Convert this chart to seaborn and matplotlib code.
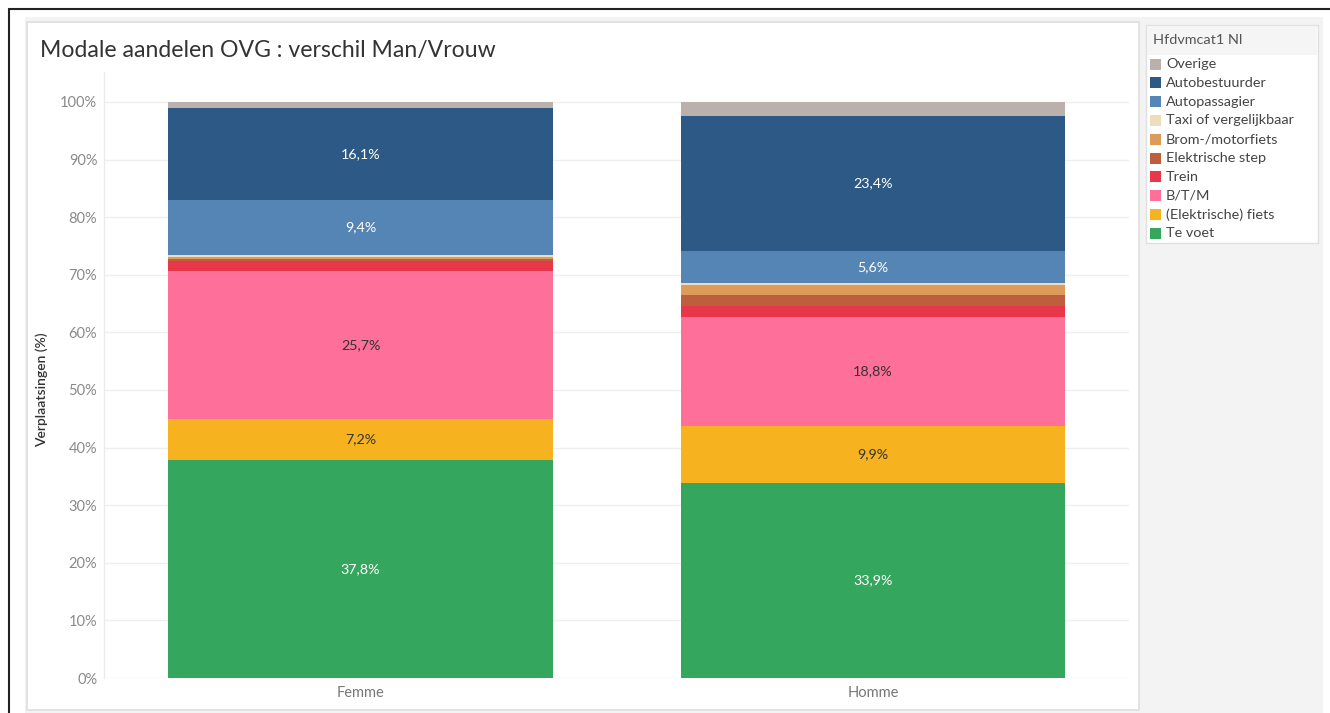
import numpy as np
import pandas as pd
import seaborn as sns
import matplotlib.pyplot as plt
from matplotlib.patches import Rectangle
from matplotlib.lines import Line2D

# Modal shares (%) per gender, listed from top of the stack to the bottom
genders = ['Femme', 'Homme']
modes = ['Overige', 'Autobestuurder', 'Autopassagier', 'Taxi of vergelijkbaar', 'Brom-/motorfiets',
         'Elektrische step', 'Trein', 'B/T/M', '(Elektrische) fiets', 'Te voet']
femme = [0.9, 16.1, 9.4, 0.5, 0.2, 0.4, 1.7, 25.7, 7.2, 37.8]
homme = [2.4, 23.4, 5.6, 0.3, 1.9, 1.9, 1.9, 18.8, 9.9, 33.9]

mode_colors = ['#bab0ac', '#2c5985', '#5485b5', '#efdcbc', '#dc9b58', '#bd5f3d', '#e8364b', '#fe6f9a',
               '#f7b21f', '#34a65d']
dark_label_modes = ['B/T/M', '(Elektrische) fiets']
MIN_LABEL = 5  # smaller segments get no label

W, H = 1330, 713

df = pd.DataFrame({'Geslacht': np.repeat(genders, len(modes)),
                   'Modus': modes * len(genders),
                   'Aandeel': femme + homme})
# top of each segment = cumulative share from the bottom of the stack
df['Top'] = df.iloc[::-1].groupby('Geslacht')['Aandeel'].cumsum()

sns.set_style('white')
plt.rcParams['font.family'] = ['Lato', 'DejaVu Sans']

fig = plt.figure(figsize=(W / 100, H / 100), dpi=100)
fig.patch.set_facecolor('white')

# dashboard background, chart panel and legend panel
fig.add_artist(Rectangle((25 / W, 0), (1323 - 25) / W, (H - 17) / H, transform=fig.transFigure,
                         facecolor='#f3f3f3', edgecolor='none', zorder=-3))
fig.add_artist(Rectangle((27 / W, 3 / H), 1112 / W, 688 / H, transform=fig.transFigure,
                         facecolor='white', edgecolor='#dedede', linewidth=1.2, zorder=-2))
fig.add_artist(Rectangle((1146 / W, (H - 243) / H), 172 / W, 218 / H, transform=fig.transFigure,
                         facecolor='white', edgecolor='#e0e0e0', linewidth=1, zorder=-2))
fig.add_artist(Rectangle((1147 / W, (H - 55) / H), 170 / W, 29 / H, transform=fig.transFigure,
                         facecolor='#f5f5f5', edgecolor='none', zorder=-1))
fig.add_artist(Line2D([9 / W, 9 / W], [0, (H - 9) / H], color='#222222', linewidth=1.5))
fig.add_artist(Line2D([9 / W, 1], [(H - 9) / H, (H - 9) / H], color='#222222', linewidth=1.5))

ax = fig.add_axes([104.25 / W, 35 / H, 1025 / W, 606 / H])
ax.set_facecolor('white')

# overdraw cumulative bars, tallest (top of stack) first
for mode, color in zip(modes, mode_colors):
    sub = df[df['Modus'] == mode]
    sns.barplot(data=sub, x='Geslacht', y='Top', order=genders, color=color, saturation=1,
                width=0.75, linewidth=0, errorbar=None, ax=ax, zorder=2)

for _, row in df.iterrows():
    if row['Aandeel'] < MIN_LABEL or row['Modus'] == 'Overige':
        continue
    txt_color = '#333333' if row['Modus'] in dark_label_modes else 'white'
    ax.text(genders.index(row['Geslacht']), row['Top'] - row['Aandeel'] / 2,
            f"{row['Aandeel']:.1f}%".replace('.', ','), ha='center', va='center',
            fontsize=10.3, color=txt_color, zorder=3)

ax.set_xlim(-0.5, 1.5)
ax.set_ylim(0, 605.9 / 5.76)
ax.set_yticks(range(0, 101, 10))
ax.set_yticklabels([f'{t}%' for t in range(0, 101, 10)])
ax.tick_params(axis='y', length=0, pad=5, labelsize=10.5, labelcolor='#8a8a8a')
ax.tick_params(axis='x', length=0, pad=6, labelsize=10.5, labelcolor='#777777')
ax.yaxis.grid(True, color='#efefef', linewidth=1)
ax.set_axisbelow(True)
for side in ['top', 'right', 'bottom']:
    ax.spines[side].set_visible(False)
ax.spines['left'].set_color('#ececec')
ax.spines['left'].set_linewidth(1)
ax.set_xlabel('')
ax.set_ylabel('Verplaatsingen (%)', fontsize=10, color='#333333', fontweight='semibold')
ax.yaxis.set_label_coords(-56 / 1025, 0.5 * 576 / 606)

fig.text(40 / W, 1 - 50 / H, 'Modale aandelen OVG : verschil Man/Vrouw', fontsize=16.6,
         color='#333333', va='center', ha='left')

# legend
fig.text(1153 / W, 1 - 40 / H, 'Hfdvmcat1 Nl', fontsize=10.4, color='#555555', va='center')
for i, (mode, color) in enumerate(zip(modes, mode_colors)):
    yc = 64 + i * 18.8
    fig.add_artist(Rectangle((1150 / W, 1 - (yc + 5.5) / H), 11 / W, 11 / H, transform=fig.transFigure,
                             facecolor=color, edgecolor='none'))
    fig.text(1166 / W, 1 - yc / H, mode, fontsize=10.4, color='#444444', va='center')

fig.savefig('out.png', dpi=100)
